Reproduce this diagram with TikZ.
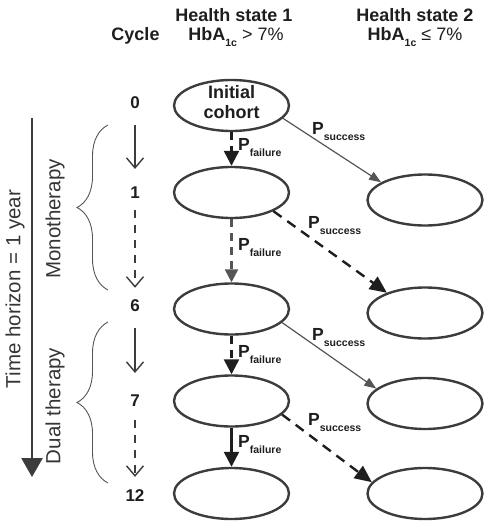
\documentclass[tikz,border=0pt]{standalone}
\usepackage{fontspec}
\setmainfont{Liberation Sans}
\usetikzlibrary{shapes.geometric,arrows.meta,decorations.pathreplacing}
\definecolor{edgegray}{HTML}{3C3C3C}
\definecolor{arrgray}{HTML}{555555}
\definecolor{inkblack}{HTML}{1E1E1E}
\newcommand{\lowsub}[1]{\raisebox{-6pt}{\fontsize{10.5}{11}\selectfont #1}}
\begin{document}
\begin{tikzpicture}[x=1pt,y=-1pt,
  state/.style={ellipse,draw=edgegray,line width=2.4pt,minimum width=115pt,minimum height=51pt,inner sep=0pt},
  head/.style={anchor=base,inner sep=0pt,text=inkblack,font=\bfseries\fontsize{18}{20}\selectfont},
  cyc/.style={inner sep=0pt,text=inkblack,font=\bfseries\fontsize{17}{17}\selectfont},
  plab/.style={anchor=base west,inner sep=0pt,text=inkblack,font=\bfseries\fontsize{17.5}{18}\selectfont},
  side/.style={rotate=90,inner sep=0pt,text=inkblack!90,font=\fontsize{20.5}{22}\selectfont},
  cycarr/.style={draw=edgegray,line width=1.4pt,-{Straight Barb[length=10pt,width=17pt]}},
  cycdash/.style={cycarr,dash pattern=on 8pt off 7pt},
  failk/.style={draw=inkblack,line width=2.4pt,-{Triangle[length=15pt,width=15pt]}},
  failg/.style={draw=arrgray,line width=2.4pt,dash pattern=on 8pt off 6pt,-{Triangle[length=13pt,width=13pt]}},
  succthin/.style={draw=arrgray,line width=1.2pt,-{Triangle[length=12pt,width=9pt]}},
  succthick/.style={draw=inkblack,line width=2.4pt,dash pattern=on 10pt off 7pt,-{Triangle[length=17pt,width=15pt]}},
  brc/.style={draw=arrgray,line width=0.9pt,decorate,decoration={brace,amplitude=31pt}}]
\useasboundingbox (0,0) rectangle (490,528);
\node[head] (hcyc) at (135.5,40) {Cycle};
\node[head] (hs1) at (234,21) {Health state 1};
\node[head] (hb1) at (236,40) {HbA\lowsub{1c} {\mdseries >\ 7\%}};
\node[head] (hs2) at (415,21) {Health state 2};
\node[head] (hb2) at (415,40) {HbA\lowsub{1c} {\mdseries ≤\ 7\%}};
\node[cyc] (c0) at (135,102.5) {0};
\node[cyc] (c1) at (135,193) {1};
\node[cyc] (c6) at (135,306) {6};
\node[cyc] (c7) at (135,401) {7};
\node[cyc] (c12) at (135,496) {12};
\draw[cycarr] (c0) -- (c1) [shorten <=16.5pt,shorten >=18pt];
\draw[cycdash] (c1) -- (c6) [shorten <=11pt,shorten >=12pt];
\draw[cycarr] (c6) -- (c7) [shorten <=16pt,shorten >=22pt];
\draw[cycdash] (c7) -- (c12) [shorten <=13pt,shorten >=13pt];
\node[state,align=center,inner ysep=-14pt,text depth=8pt,text=inkblack,font=\bfseries\fontsize{18}{20}\selectfont] (L0) at (231.5,105.5) {Initial\\cohort};
\node[state] (L1) at (231.5,192.5) {};
\node[state] (L6) at (231.5,309) {};
\node[state] (L7) at (231.5,401) {};
\node[state] (L12) at (231.5,493.5) {};
\node[state] (R1) at (425,200) {};
\node[state] (R6) at (425,313) {};
\node[state] (R7) at (425,403.5) {};
\node[state] (R12) at (425,493.5) {};
\draw[failk,dash pattern=on 8pt off 6pt] (L0) -- (L1);
\draw[failg] (L1) -- (L6);
\draw[failk,dash pattern=on 8pt off 6pt] (L6) -- (L7);
\draw[failk] (L7) -- (L12);
\draw[succthin] (L0.-14) -- (R1.158);
\draw[succthick] (L1.-24) -- (R6.152);
\draw[succthin] (L6.-15) -- (R7.163);
\draw[succthick] (L7.-15) -- (R12.168);
\node[plab] (pf0) at (238,150) {P\lowsub{failure}};
\node[plab] (pf1) at (238,250) {P\lowsub{failure}};
\node[plab] (pf6) at (238,357) {P\lowsub{failure}};
\node[plab] (pf7) at (238,447) {P\lowsub{failure}};
\node[plab] (ps0) at (312,134) {P\lowsub{success}};
\node[plab] (ps1) at (308,228) {P\lowsub{success}};
\node[plab] (ps6) at (312,340) {P\lowsub{success}};
\node[plab] (ps7) at (308,425) {P\lowsub{success}};
\draw[brc] (108,290) -- (108,125);
\draw[brc] (108,483) -- (108,322);
\node[side] (mono) at (55,219) {Monotherapy};
\node[side] (dual) at (55,406) {Dual therapy};
\coordinate (ttop) at (32,118);
\coordinate (tend) at (32,477);
\draw[draw=edgegray,line width=2.5pt,-{Triangle[length=19pt,width=21pt]}] (ttop) -- (tend);
\node[side] (horiz) at (15,289) {Time horizon = 1 year};
\end{tikzpicture}
\end{document}
